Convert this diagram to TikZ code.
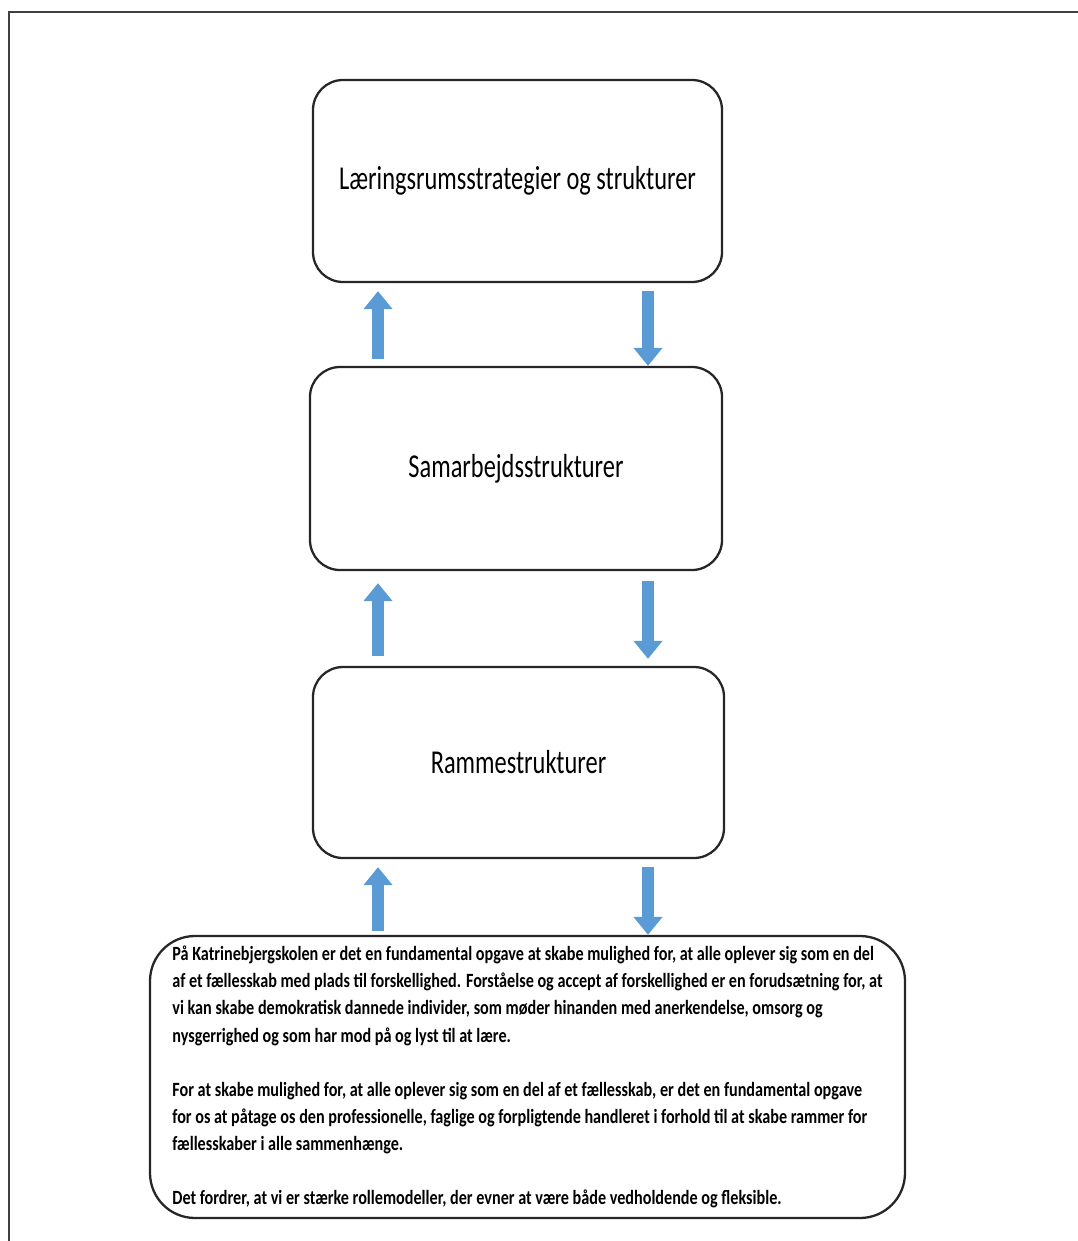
\documentclass[tikz,border=0pt]{standalone}
\usepackage{fontspec}
\setmainfont{Carlito}
\newfontfamily\smal[FakeStretch=0.73]{Carlito}
\newfontfamily\brodtekst[FakeStretch=0.80]{Carlito}
\usetikzlibrary{arrows.meta}
\definecolor{pilblaa}{HTML}{5B9BD5}
\definecolor{ramme}{HTML}{404040}

\begin{document}
\begin{tikzpicture}[x=1cm,y=1cm,
  boks/.style={draw=black!85,line width=1.3pt,rounded corners=0.6cm,align=center,
    font=\smal\fontsize{19}{23}\selectfont},
  tekstboks/.style={draw=black!85,line width=1.3pt,rounded corners=0.9cm,align=left,
    font=\brodtekst\bfseries\fontsize{11.5}{15.4}\selectfont},
  pil/.style={draw=pilblaa,line width=0.24cm,-{Triangle[width=0.56cm,length=0.36cm]}}]
  \useasboundingbox (0,0) rectangle (21.56,-24.82);

  % ramme om figuren
  \draw[line width=1pt,ramme] (0.18,-24.82) -- (0.18,-0.24) -- (21.56,-0.24);

  % de fire bokse
  \node[boks,minimum width=8.18cm,minimum height=4.04cm] (laering) at (10.35,-3.62) {Læringsrumsstrategier og strukturer};
  \node[boks,minimum width=8.24cm,minimum height=4.06cm] (samarbejde) at (10.32,-9.37) {Samarbejdsstrukturer};
  \node[boks,minimum width=8.22cm,minimum height=3.82cm] (ramme) at (10.37,-15.25) {Rammestrukturer};
  \node[tekstboks,minimum width=15.1cm,minimum height=5.64cm] (faelles) at (10.55,-21.54) {%
    På Katrinebjergskolen er det en fundamental opgave at skabe mulighed for, at alle oplever sig som en del\\
    af et fællesskab med plads til forskellighed. Forståelse og accept af forskellighed er en forudsætning for, at\\
    vi kan skabe demokratisk dannede individer, som møder hinanden med anerkendelse, omsorg og\\
    nysgerrighed og som har mod på og lyst til at lære.\\[15.4pt]
    For at skabe mulighed for, at alle oplever sig som en del af et fællesskab, er det en fundamental opgave\\
    for os at påtage os den professionelle, faglige og forpligtende handleret i forhold til at skabe rammer for\\
    fællesskaber i alle sammenhænge.\\[15.4pt]
    Det fordrer, at vi er stærke rollemodeller, der evner at være både vedholdende og fleksible.};

  % pile op og ned mellem boksene
  \draw[pil,shorten <=0.14cm,shorten >=0.16cm] ([xshift=-2.76cm]samarbejde.north) -- ([xshift=-2.76cm]samarbejde.north |- laering.south);
  \draw[pil,shorten <=0.16cm] ([xshift=2.64cm]samarbejde.north |- laering.south) -- ([xshift=2.64cm]samarbejde.north);

  \draw[pil,shorten <=0.2cm,shorten >=0.24cm] ([xshift=-2.81cm]ramme.north) -- ([xshift=-2.81cm]ramme.north |- samarbejde.south);
  \draw[pil,shorten <=0.2cm,shorten >=0.14cm] ([xshift=2.59cm]ramme.north |- samarbejde.south) -- ([xshift=2.59cm]ramme.north);

  \draw[pil,shorten <=0.08cm,shorten >=0.16cm] ([xshift=-2.81cm]ramme.south |- faelles.north) -- ([xshift=-2.81cm]ramme.south);
  \draw[pil,shorten <=0.16cm] ([xshift=2.59cm]ramme.south) -- ([xshift=2.59cm]ramme.south |- faelles.north);
\end{tikzpicture}
\end{document}
